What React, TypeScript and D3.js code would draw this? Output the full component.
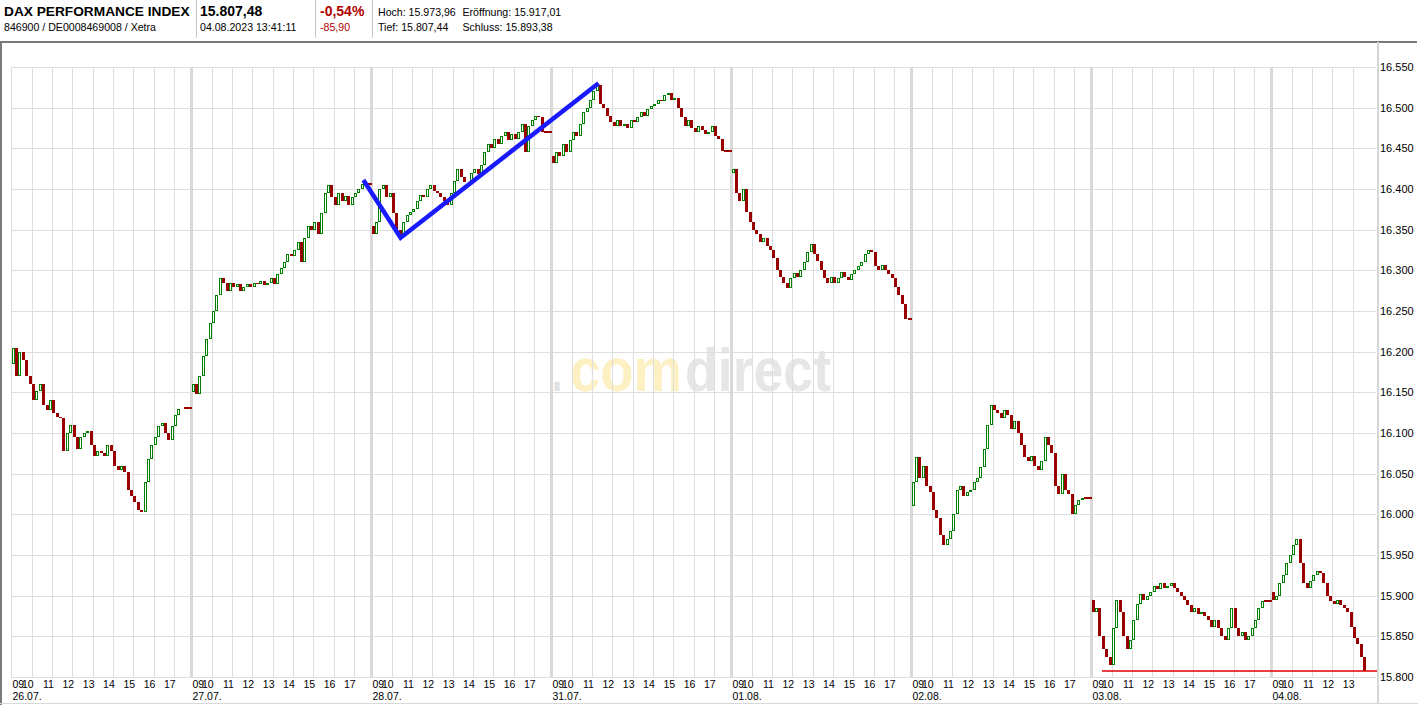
import React from 'react';
import * as d3 from 'd3';

// ---------- data (10-minute closes, first value = day open) ----------
const dayLabels = ['26.07.', '27.07.', '28.07.', '31.07.', '01.08.', '02.08.', '03.08.', '04.08.'];
const hourLabels = ['09', '10', '11', '12', '13', '14', '15', '16', '17'];
const yTickValues = [15800, 15850, 15900, 15950, 16000, 16050, 16100, 16150, 16200, 16250, 16300, 16350, 16400, 16450, 16500, 16550];

const d2607 = [16185, 16205, 16170, 16200, 16190, 16170, 16160, 16140, 16152, 16160, 16135, 16128, 16140, 16125, 16120, 16118, 16078, 16100, 16110, 16095, 16080, 16095, 16100, 16103, 16085, 16072, 16078, 16075, 16072, 16085, 16078, 16060, 16055, 16060, 16052, 16030, 16022, 16015, 16005, 16003, 16040, 16068, 16085, 16095, 16108, 16112, 16100, 16092, 16108, 16122, 16130, 16131, 16131, 16131];
const d2707 = [16150, 16160, 16148, 16170, 16195, 16215, 16235, 16250, 16270, 16290, 16285, 16275, 16285, 16280, 16283, 16275, 16280, 16283, 16280, 16285, 16283, 16287, 16282, 16285, 16290, 16283, 16295, 16303, 16310, 16320, 16318, 16325, 16335, 16310, 16340, 16355, 16350, 16360, 16345, 16370, 16395, 16405, 16390, 16380, 16395, 16385, 16392, 16380, 16390, 16395, 16400, 16406, 16406, 16406];
const d2807 = [16355, 16345, 16360, 16400, 16405, 16390, 16395, 16370, 16350, 16343, 16360, 16368, 16372, 16375, 16385, 16393, 16390, 16400, 16405, 16398, 16395, 16390, 16385, 16380, 16395, 16410, 16425, 16415, 16408, 16410, 16420, 16425, 16418, 16430, 16445, 16455, 16450, 16462, 16455, 16465, 16470, 16460, 16468, 16462, 16470, 16480, 16445, 16478, 16485, 16490, 16488, 16470, 16470, 16470];
const d3107 = [16440, 16432, 16445, 16440, 16455, 16445, 16460, 16470, 16465, 16480, 16495, 16500, 16510, 16520, 16528, 16505, 16500, 16490, 16482, 16478, 16485, 16478, 16480, 16475, 16485, 16482, 16488, 16495, 16490, 16498, 16502, 16505, 16510, 16508, 16515, 16518, 16510, 16512, 16500, 16488, 16478, 16485, 16475, 16470, 16478, 16472, 16468, 16470, 16478, 16465, 16462, 16447, 16447, 16447];
const d0108 = [16420, 16425, 16395, 16385, 16400, 16372, 16360, 16350, 16345, 16335, 16340, 16330, 16325, 16315, 16300, 16292, 16285, 16278, 16290, 16297, 16292, 16300, 16310, 16322, 16332, 16320, 16312, 16300, 16290, 16285, 16292, 16285, 16290, 16298, 16292, 16288, 16295, 16300, 16305, 16310, 16320, 16325, 16322, 16305, 16300, 16306, 16300, 16295, 16290, 16280, 16270, 16258, 16240, 16240];
const d0208 = [16010, 16040, 16070, 16045, 16060, 16035, 16028, 16005, 15995, 15975, 15962, 15970, 15980, 16000, 16030, 16035, 16022, 16028, 16030, 16040, 16045, 16058, 16080, 16110, 16135, 16128, 16125, 16118, 16128, 16122, 16105, 16115, 16100, 16085, 16070, 16065, 16072, 16060, 16055, 16065, 16095, 16085, 16075, 16035, 16025, 16050, 16030, 16025, 16000, 16012, 16018, 16020, 16020, 16020];
const d0308 = [15895, 15880, 15885, 15850, 15835, 15825, 15815, 15860, 15895, 15880, 15850, 15835, 15845, 15870, 15890, 15902, 15895, 15900, 15905, 15912, 15908, 15915, 15910, 15912, 15915, 15910, 15905, 15900, 15895, 15888, 15880, 15885, 15878, 15880, 15875, 15870, 15862, 15870, 15860, 15850, 15845, 15860, 15885, 15860, 15850, 15855, 15845, 15850, 15860, 15870, 15885, 15893, 15893, 15893];
const d0408 = [15905, 15895, 15900, 15915, 15925, 15940, 15950, 15962, 15970, 15940, 15915, 15910, 15918, 15925, 15930, 15928, 15915, 15900, 15893, 15890, 15895, 15888, 15885, 15880, 15862, 15848, 15840, 15825, 15807];
const daySeries = [d2607, d2707, d2807, d3107, d0108, d0208, d0308, d0408];

// drawn trend line: [day index, minutes after 09:00, value]
const trendPoints: [number, number, number][] = [[1, 508, 16411], [2, 86, 16340], [3, 139, 16530]];
const currentPrice = 15807.48;
const currentLineStart: [number, number] = [6, 31];

const headerTitle = 'DAX PERFORMANCE INDEX';
const headerSub = '846900 / DE0008469008 / Xetra';
const headerPrice = '15.807,48';
const headerTime = '04.08.2023 13:41:11';
const headerPct = '-0,54%';
const headerAbs = '-85,90';
const headerStats = [['Hoch: 15.973,96', 'Eröffnung: 15.917,01'], ['Tief: 15.807,44', 'Schluss: 15.893,38']];
const watermarkParts = [
  { text: '.', x: 552, len: 10, fill: '#e2e2e2' },
  { text: 'com', x: 570, len: 112, fill: '#fdf0c2' },
  { text: 'direct', x: 685, len: 146, fill: '#e6e6e6' },
];

const FONT = "Arial, 'Liberation Sans', sans-serif";

export default function App() {
  const W = 1418, H = 705;
  const plotLeft = 11, plotRight = 1377, plotTop = 67, plotBottom = 677;
  const y = d3.scaleLinear().domain([15800, 16550]).range([plotBottom, plotTop]);
  const xDay = d3.scaleLinear().domain([0, 8]).range([11, 1451]);
  const xMin = d3.scaleLinear().domain([0, 532]).range([0.5, 180.5]);
  const xAt = (d: number, m: number) => xDay(d) + xMin(m);
  const loc = d3.formatLocale({ decimal: ',', thousands: '.', grouping: [3], currency: ['', ''] });
  const fmt = loc.format(',.0f');

  const green = '#008000';
  const red = '#990000';

  const candles: React.ReactNode[] = [];
  daySeries.forEach((vals, d) => {
    for (let i = 1; i < vals.length; i++) {
      const o = vals[i - 1], c = vals[i];
      const cx = xAt(d, i * 10 - 5);
      const L = Math.round(cx - 1.5);
      const key = `${d}-${i}`;
      if (c > o) {
        const top = Math.round(y(c)), bot = Math.round(y(o));
        candles.push(<rect key={key} x={L + 0.5} y={top + 0.5} width={2} height={Math.max(bot - top - 1, 0)} fill="#fff" stroke={green} strokeWidth={1} />);
      } else if (c < o) {
        const top = Math.round(y(o)), bot = Math.round(y(c));
        candles.push(<rect key={key} x={L} y={top} width={3} height={Math.max(bot - top, 1)} fill={red} />);
      } else {
        candles.push(<rect key={key} x={L} y={Math.round(y(c)) - 1} width={4} height={2} fill={red} />);
      }
    }
  });

  const vLines: React.ReactNode[] = [];
  const hLabels: React.ReactNode[] = [];
  dayLabels.forEach((lab, d) => {
    const s = xDay(d);
    if (d === 0) {
      vLines.push(<line key={`ds${d}`} x1={s + 0.5} x2={s + 0.5} y1={plotTop} y2={plotBottom} stroke="#dedede" strokeWidth={1} />);
    } else {
      vLines.push(<line key={`ds${d}`} x1={s + 0.5} x2={s + 0.5} y1={plotTop} y2={plotBottom} stroke="#d9d9d9" strokeWidth={3} />);
    }
    hLabels.push(<text key={`dl${d}`} x={s + 1.5} y={700} fontSize={10.5}>{lab}</text>);
    hourLabels.forEach((h, k) => {
      const gx = xAt(d, k * 60);
      if (gx > plotRight - 8) return;
      if (k > 0) {
        vLines.push(<line key={`h${d}-${k}`} x1={Math.round(gx) + 0.5} x2={Math.round(gx) + 0.5} y1={plotTop} y2={plotBottom} stroke="#dedede" strokeWidth={1} />);
        hLabels.push(<text key={`hl${d}-${k}`} x={gx + 1.8} y={688} fontSize={10.5} textAnchor="end">{h}</text>);
      } else {
        hLabels.push(<text key={`hl${d}-${k}`} x={s + 1.5} y={688} fontSize={10.5}>{h}</text>);
      }
    });
  });

  const trend = d3.line<[number, number, number]>().x(p => xAt(p[0], p[1])).y(p => y(p[2]))(trendPoints) || '';

  return (
    <svg width={W} height={H} style={{ position: 'absolute', left: 0, top: 0, display: 'block', background: '#fff' }} fontFamily={FONT}>
      <rect x={0} y={0} width={W} height={H} fill="#fff" />
      {/* header */}
      <text x={4} y={16} fontSize={13.7} fontWeight="bold" fill="#000">{headerTitle}</text>
      <text x={4} y={31} fontSize={10.6} fill="#000">{headerSub}</text>
      <line x1={196.5} x2={196.5} y1={0} y2={38} stroke="#c4c4c4" />
      <text x={200} y={16} fontSize={14} fontWeight="bold" fill="#000">{headerPrice}</text>
      <text x={200} y={31} fontSize={10.6} fill="#000">{headerTime}</text>
      <line x1={315.5} x2={315.5} y1={0} y2={38} stroke="#c4c4c4" />
      <text x={320} y={16} fontSize={14} fontWeight="bold" fill="#b00000">{headerPct}</text>
      <text x={320} y={31} fontSize={10.6} fill="#b00000">{headerAbs}</text>
      <line x1={372.5} x2={372.5} y1={0} y2={38} stroke="#c4c4c4" />
      {headerStats.map((row, r) => (
        <g key={`hs${r}`}>
          <text x={378} y={16 + r * 15} fontSize={10.6}>{row[0]}</text>
          <text x={462.5} y={16 + r * 15} fontSize={10.6}>{row[1]}</text>
        </g>
      ))}
      {/* frame */}
      <line x1={0} x2={1417} y1={42} y2={42} stroke="#7a7a7a" strokeWidth={2} />
      <line x1={1} x2={1} y1={41} y2={H} stroke="#7a7a7a" strokeWidth={2} />
      <line x1={0} x2={W} y1={703.5} y2={703.5} stroke="#d8d8d8" strokeWidth={1} />

      {/* watermark */}
      {watermarkParts.map(p => (
        <text key={p.text} x={p.x} y={391} fontSize={62} fontWeight="bold" fill={p.fill} textLength={p.len} lengthAdjust="spacingAndGlyphs">{p.text}</text>
      ))}

      {/* grid */}
      <g shapeRendering="crispEdges">
        {yTickValues.map(v => (
          <line key={`g${v}`} x1={plotLeft} x2={plotRight - 1} y1={Math.round(y(v)) + 0.5} y2={Math.round(y(v)) + 0.5} stroke="#dedede" strokeWidth={1} />
        ))}
        {vLines}
        <line x1={plotRight + 1} x2={plotRight + 1} y1={plotTop - 25} y2={plotBottom + 26} stroke="#d6d6d6" strokeWidth={2} />
      </g>

      {/* y axis labels */}
      {yTickValues.map(v => (
        <text key={`yl${v}`} x={plotRight + 3} y={y(v) + 4} fontSize={11} fill="#000">{fmt(v)}</text>
      ))}

      {/* x labels */}
      <g fill="#000">{hLabels}</g>

      {/* candles */}
      <g>{candles}</g>

      {/* current price line */}
      <line x1={xAt(currentLineStart[0], currentLineStart[1])} x2={plotRight} y1={y(currentPrice)} y2={y(currentPrice)} stroke="#e00000" strokeWidth={1.5} />

      {/* trend line */}
      <path d={trend} fill="none" stroke="#1a1aff" strokeWidth={4.5} strokeLinejoin="miter" />
    </svg>
  );
}
